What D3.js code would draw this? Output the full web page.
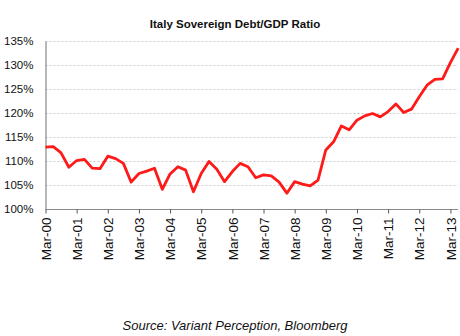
<!DOCTYPE html>
<html>
<head>
<meta charset="utf-8">
<script src="https://cdn.jsdelivr.net/npm/d3@7"></script>
<style>
  html, body { margin: 0; padding: 0; background: #fff; }
  svg { display: block; font-family: Arial, "Liberation Sans", sans-serif; }
</style>
</head>
<body>
<svg id="chart" width="460" height="336"></svg>
<script>
// Quarterly debt/GDP ratio (%), Mar-00 through Jun-13
const quarters = d3.range(54).map(i => {
  const yr = 2000 + Math.floor(i / 4);
  const m = ["Mar", "Jun", "Sep", "Dec"][i % 4];
  return m + "-" + String(yr % 100).padStart(2, "0");
});
const debtRatio = [
  112.9, 113.0, 111.7, 108.7, 110.1, 110.35, 108.5, 108.4,
  111.0, 110.5, 109.5, 105.6, 107.4, 107.9, 108.5, 104.1,
  107.3, 108.8, 108.1, 103.6, 107.4, 109.9, 108.3, 105.7,
  107.8, 109.5, 108.8, 106.5, 107.1, 106.9, 105.6, 103.3,
  105.7, 105.2, 104.8, 106.0, 112.3, 114.0, 117.3, 116.5,
  118.5, 119.4, 119.9, 119.2, 120.3, 121.9, 120.1, 120.8,
  123.4, 125.8, 127.0, 127.1, 130.5, 133.5
];
const yTicks = [100, 105, 110, 115, 120, 125, 130, 135];
const xTickIdx = d3.range(0, 53, 4);   // every March
const title = "Italy Sovereign Debt/GDP Ratio";
const source = "Source: Variant Perception, Bloomberg";

const svg = d3.select("#chart");
const plot = { left: 45.5, right: 458, top: 41, bottom: 209 };

const x = d3.scaleLinear().domain([0, 52]).range([plot.left, 450.4]);
const y = d3.scaleLinear().domain([100, 135]).range([plot.bottom, plot.top]);

// Dashed horizontal gridlines
svg.append("g")
  .selectAll("line")
  .data(yTicks.filter(t => t > 100))
  .join("line")
  .attr("x1", plot.left).attr("x2", plot.right)
  .attr("y1", d => Math.round(y(d)) + 0.5).attr("y2", d => Math.round(y(d)) + 0.5)
  .attr("stroke", "#c8c8c8")
  .attr("stroke-width", 1)
  .attr("stroke-dasharray", "2,2");

// Y axis
const yAxis = svg.append("g")
  .attr("transform", `translate(${plot.left},0)`)
  .call(d3.axisLeft(y).tickValues(yTicks).tickFormat(d => d + "%").tickSize(0).tickPadding(12));
yAxis.select(".domain").attr("stroke", "#888").attr("stroke-width", 1.2);
yAxis.selectAll("text").attr("font-size", 11.5).attr("fill", "#111")
  .attr("font-family", "Arial, 'Liberation Sans', sans-serif");

// X axis
const xAxis = svg.append("g")
  .attr("transform", `translate(0,${plot.bottom + 0.5})`)
  .call(d3.axisBottom(x).tickValues(xTickIdx).tickFormat(i => quarters[i]).tickSize(4).tickSizeOuter(0));
xAxis.select(".domain").attr("stroke", "#888").attr("stroke-width", 1.2)
  .attr("d", `M${plot.left},0H${plot.right}`);
xAxis.selectAll(".tick line").attr("stroke", "#555");
xAxis.selectAll("text")
  .attr("font-size", 13.5).attr("fill", "#111")
  .attr("font-family", "Arial, 'Liberation Sans', sans-serif")
  .attr("text-anchor", "end")
  .attr("transform", "rotate(-90)")
  .attr("x", -8).attr("y", 0).attr("dy", "0.35em");

// Ratio line
svg.append("path")
  .datum(debtRatio)
  .attr("fill", "none")
  .attr("stroke", "#ff1a1a")
  .attr("stroke-width", 2.8)
  .attr("stroke-linejoin", "round")
  .attr("d", d3.line().x((d, i) => x(i)).y(d => y(d)));

// Title
svg.append("text")
  .attr("x", 235).attr("y", 28)
  .attr("text-anchor", "middle")
  .attr("font-size", 11.5).attr("font-weight", "bold").attr("fill", "#111")
  .text(title);

// Source note
svg.append("text")
  .attr("x", 235).attr("y", 330)
  .attr("text-anchor", "middle")
  .attr("font-size", 13).attr("font-style", "italic").attr("fill", "#111")
  .text(source);
</script>
</body>
</html>
